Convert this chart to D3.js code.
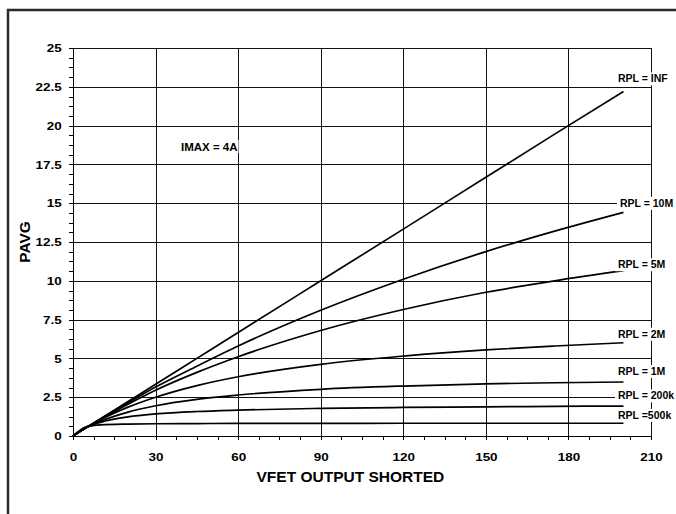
<!DOCTYPE html>
<html>
<head>
<meta charset="utf-8">
<script src="https://cdn.jsdelivr.net/npm/d3@7"></script>
<style>
  body { margin:0; background:#fff; overflow:hidden; }
  svg { display:block; font-family:"Liberation Sans", Arial, sans-serif; }
  .grid line { stroke:#111; stroke-width:1; shape-rendering:crispEdges; }
  .axis path, .axis line { stroke:#000; shape-rendering:crispEdges; }
  .axis text { font-weight:bold; font-size:11.5px; fill:#000; }
</style>
</head>
<body>
<div id="plot"></div>
<script>
// data
var vfet = [0, 5, 10, 20, 30, 45, 60, 90, 120, 150, 175, 200];

var rplInf  = [0, 0.56, 1.11, 2.22, 3.33, 5.0, 6.67, 10.0, 13.33, 16.67, 19.45, 22.2];
var rpl10M  = [0, 0.56, 1.10, 2.14, 3.15, 4.5, 5.8, 8.1, 10.1, 11.88, 13.2, 14.41];
var rpl5M   = [0, 0.56, 1.08, 2.05, 2.95, 4.1, 5.11, 6.8, 8.15, 9.26, 10.0, 10.65];
var rpl2M   = [0, 0.56, 1.05, 1.86, 2.5, 3.25, 3.82, 4.62, 5.15, 5.55, 5.8, 6.01];
var rpl1M   = [0, 0.54, 0.95, 1.54, 1.95, 2.36, 2.64, 3.01, 3.22, 3.36, 3.43, 3.48];
var rpl200k = [0, 0.57, 0.88, 1.23, 1.42, 1.58, 1.67, 1.78, 1.84, 1.88, 1.91, 1.93];
var rpl500k = [0, 0.6, 0.72, 0.77, 0.79, 0.8, 0.81, 0.81, 0.82, 0.82, 0.82, 0.82];

var seriesNames = ['RPL = INF','RPL = 10M','RPL = 5M','RPL = 2M','RPL = 1M','RPL = 200k','RPL =500k'];
var seriesVals = [rplInf, rpl10M, rpl5M, rpl2M, rpl1M, rpl200k, rpl500k];

var xTicks = [0, 30, 60, 90, 120, 150, 180, 210];
var yTicks = [0, 2.5, 5, 7.5, 10, 12.5, 15, 17.5, 20, 22.5, 25];

// label placement (value units on the y axis)
var labelAt = [22.78, 14.77, 10.81, 6.33, 3.93, 2.36, 1.10];

var W = 676, H = 514;
var margin = {t:48, r:25, b:78, l:73};

var svg = d3.select('#plot').append('svg')
  .attr('width', W).attr('height', H);

// frame (only top and left edges are in view)
svg.append('path')
  .attr('d', 'M8,' + H + 'V10H' + W)
  .attr('fill', 'none').attr('stroke', '#2b2b2b').attr('stroke-width', 2.5);

var x = d3.scaleLinear().domain([0, 210]).range([margin.l, W - margin.r]);
var y = d3.scaleLinear().domain([0, 25]).range([H - margin.b, margin.t]);

// grid
var grid = svg.append('g').attr('class', 'grid');
grid.selectAll('.h').data(yTicks.slice(1)).enter().append('line')
  .attr('x1', x(0)).attr('x2', x(210))
  .attr('y1', function(d){ return Math.round(y(d)) + 0.5; })
  .attr('y2', function(d){ return Math.round(y(d)) + 0.5; });
grid.selectAll('.v').data(xTicks.slice(1)).enter().append('line')
  .attr('y1', y(0)).attr('y2', y(25))
  .attr('x1', function(d){ return Math.round(x(d)) + 0.5; })
  .attr('x2', function(d){ return Math.round(x(d)) + 0.5; });

// minor ticks
var xMinor = d3.range(0, 210.01, 7.5);
var yMinor = d3.range(0, 25.01, 0.625);

svg.append('g').attr('class', 'axis')
  .attr('transform', 'translate(0,' + y(0) + ')')
  .call(d3.axisBottom(x).tickValues(xMinor).tickSize(4).tickFormat(''))
  .select('.domain').remove();
svg.append('g').attr('class', 'axis')
  .attr('transform', 'translate(' + x(0) + ',0)')
  .call(d3.axisLeft(y).tickValues(yMinor).tickSize(4).tickFormat(''))
  .select('.domain').remove();

// main axes
var sx = 1.17;
var xAxis = svg.append('g').attr('class', 'axis')
  .attr('transform', 'translate(0,' + y(0) + ')')
  .call(d3.axisBottom(x).tickValues(xTicks).tickSize(4).tickSizeOuter(0));
xAxis.selectAll('text').attr('y', 24.8).attr('dy', 0)
  .attr('transform', 'scale(' + sx + ',1)');

var yAxis = svg.append('g').attr('class', 'axis')
  .attr('transform', 'translate(' + x(0) + ',0)')
  .call(d3.axisLeft(y).tickValues(yTicks).tickSize(4).tickSizeOuter(0)
    .tickFormat(function(d){ return d; }));
yAxis.selectAll('text').attr('x', -11.3 / sx)
  .attr('transform', 'scale(' + sx + ',1)');

// curves
var line = d3.line()
  .x(function(d, i){ return x(vfet[i]); })
  .y(function(d){ return y(d); })
  .curve(d3.curveMonotoneX);

svg.selectAll('.curve').data(seriesVals).enter().append('path')
  .attr('class', 'curve')
  .attr('d', line)
  .attr('fill', 'none')
  .attr('stroke', '#000')
  .attr('stroke-width', 1.7);

// series labels with white boxes
seriesNames.forEach(function(name, i){
  var g = svg.append('g');
  var tx = i == 1 ? 620 : 618;
  var ty = y(labelAt[i]);
  var t = g.append('text')
    .attr('x', tx).attr('y', ty)
    .attr('font-size', 10.5).attr('font-weight', 'bold')
    .text(name);
  var bb = t.node().getBBox();
  g.insert('rect', 'text')
    .attr('x', bb.x - 3).attr('y', ty - 10)
    .attr('width', bb.width + 5).attr('height', 13)
    .attr('fill', '#fff');
});

// IMAX note
var note = svg.append('g');
var nt = note.append('text')
  .attr('x', 181).attr('y', 150.7)
  .attr('font-size', 11.5).attr('font-weight', 'bold')
  .text('IMAX = 4A');
var nb = nt.node().getBBox();
note.insert('rect', 'text')
  .attr('x', nb.x - 2).attr('y', 140).attr('width', nb.width + 3).attr('height', 13)
  .attr('fill', '#fff');

// axis titles
svg.append('text')
  .attr('x', 350.4).attr('y', 481.7)
  .attr('text-anchor', 'middle')
  .attr('font-size', 15.5).attr('font-weight', 'bold')
  .text('VFET OUTPUT SHORTED');

svg.append('text')
  .attr('transform', 'translate(30,242) rotate(-90)')
  .attr('text-anchor', 'middle')
  .attr('font-size', 15.5).attr('font-weight', 'bold')
  .text('PAVG');
</script>
</body>
</html>
